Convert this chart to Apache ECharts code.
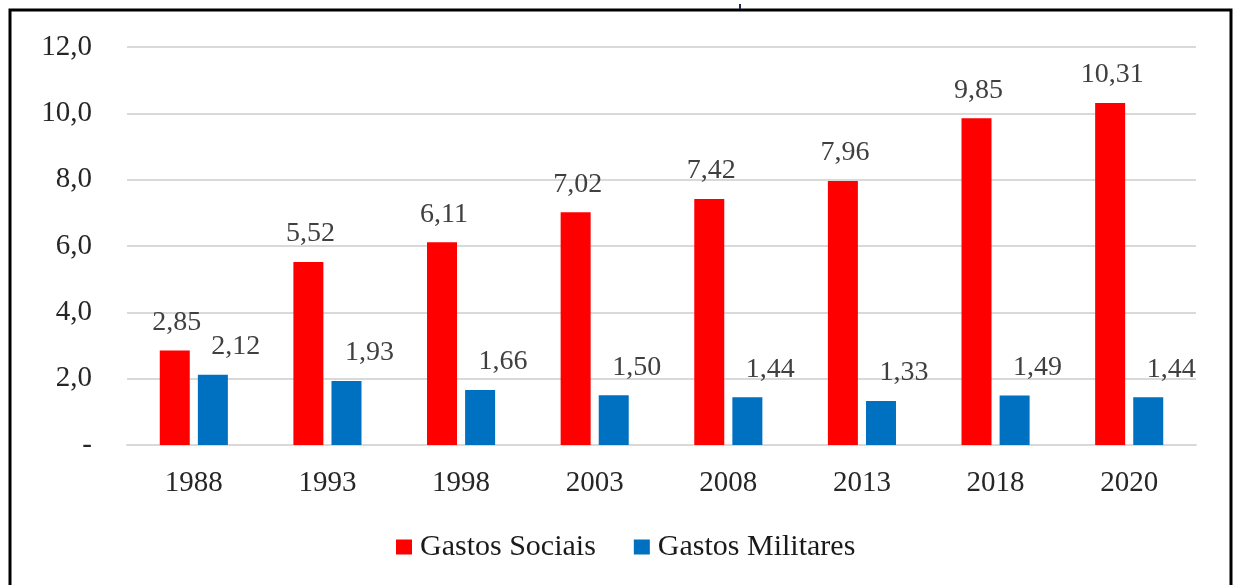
<!DOCTYPE html>
<html>
<head>
<meta charset="utf-8">
<script src="https://cdn.jsdelivr.net/npm/echarts@6/dist/echarts.min.js"></script>
<style>
  html, body { margin: 0; padding: 0; background: #fff; }
  #chart { width: 1235px; height: 585px; }
</style>
</head>
<body>
<div id="chart"></div>
<script>
// Social vs. military spending, % share, selected years
const years = ['1988', '1993', '1998', '2003', '2008', '2013', '2018', '2020'];
const gastosSociais = [2.85, 5.52, 6.11, 7.02, 7.42, 7.96, 9.85, 10.31];
const gastosMilitares = [2.12, 1.93, 1.66, 1.50, 1.44, 1.33, 1.49, 1.44];
const yTicks = [0, 2, 4, 6, 8, 10, 12];

const serif = '"Liberation Serif", "Times New Roman", serif';
const fmtComma = (v, d) => v.toFixed(d).replace('.', ',');

const chart = echarts.init(document.getElementById('chart'));
chart.setOption({
  animation: false,
  backgroundColor: '#fff',
  graphic: [{
    type: 'rect',
    shape: { x: 10, y: 10, width: 1221, height: 600 },
    style: { fill: 'none', stroke: '#000', lineWidth: 3 },
    silent: true
  }, {
    type: 'line',
    shape: { x1: 740, y1: 4, x2: 740, y2: 9 },
    style: { stroke: '#1f2a55', lineWidth: 2 },
    silent: true
  }],
  grid: { left: 127, right: 39, top: 47, bottom: 140 },
  legend: {
    top: 527,
    left: 391,
    itemWidth: 16,
    itemHeight: 15,
    itemGap: 38,
    icon: 'rect',
    textStyle: { fontFamily: serif, fontSize: 30, color: '#1a1a1a', padding: [0, 0, 0, 3] },
    data: ['Gastos Sociais', 'Gastos Militares']
  },
  xAxis: {
    type: 'category',
    data: years,
    axisLine: { lineStyle: { color: '#d9d9d9', width: 2 } },
    axisTick: { show: false },
    axisLabel: { fontFamily: serif, fontSize: 29, color: '#262626', margin: 24 }
  },
  yAxis: {
    type: 'value',
    min: yTicks[0],
    max: yTicks[yTicks.length - 1],
    interval: 2,
    axisLine: { show: false },
    axisTick: { show: false },
    splitLine: { lineStyle: { color: '#d9d9d9', width: 2 } },
    axisLabel: {
      fontFamily: serif, fontSize: 29, color: '#262626', margin: 35,
      formatter: v => v === 0 ? '-' : fmtComma(v, 1)
    }
  },
  series: [{
    name: 'Gastos Sociais',
    type: 'bar',
    data: gastosSociais,
    barWidth: 30,
    barGap: '27%',
    itemStyle: { color: '#ff0000' },
    label: {
      show: true, position: 'top', distance: 14, offset: [2, 0],
      fontFamily: serif, fontSize: 28, color: '#404040',
      formatter: p => fmtComma(p.value, 2)
    }
  }, {
    name: 'Gastos Militares',
    type: 'bar',
    data: gastosMilitares,
    barWidth: 30,
    itemStyle: { color: '#0070c0' },
    label: {
      show: true, position: 'top', distance: 14, offset: [23, 0],
      fontFamily: serif, fontSize: 28, color: '#404040',
      formatter: p => fmtComma(p.value, 2)
    }
  }]
});
</script>
</body>
</html>
